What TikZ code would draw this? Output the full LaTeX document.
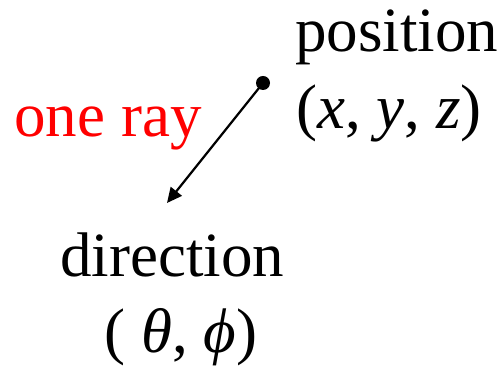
\documentclass[tikz,border=0pt]{standalone}
\usepackage{fontspec}
\setmainfont{Liberation Serif}
\usetikzlibrary{arrows.meta}

\begin{document}
\begin{tikzpicture}[x=0.5pt, y=-0.5pt]
    % Define styles
    \tikzset{label/.style={inner sep=0pt, anchor=base west, font=\fontsize{31.5}{38}\selectfont}}
    \tikzset{raydot/.style={circle, fill=black, inner sep=0pt, minimum size=7pt}}
    \tikzset{arrow/.style={line width=1.1pt, -{Triangle[length=7.5pt, width=7pt]}}}
    \useasboundingbox (0,0) rectangle (504,368);

    % Nodes
    \node (pos) [label] at (295,52) {position};
    \node (xyz) [label] at (296,129) {(\textit{x}, \textit{y}, \textit{z})};
    \node (ray) [label, text=red] at (14,137) {one ray};
    \node (dir) [label] at (60,277) {direction};
    \node (angles) [label] at (104,353) {( \textit{θ}, \textit{ϕ})};
    \node (origin) [raydot] at (263,83) {};
    \coordinate (tip) at (167,203);

    % Arrows
    \draw [arrow] (origin.center) -- (tip);
\end{tikzpicture}
\end{document}
